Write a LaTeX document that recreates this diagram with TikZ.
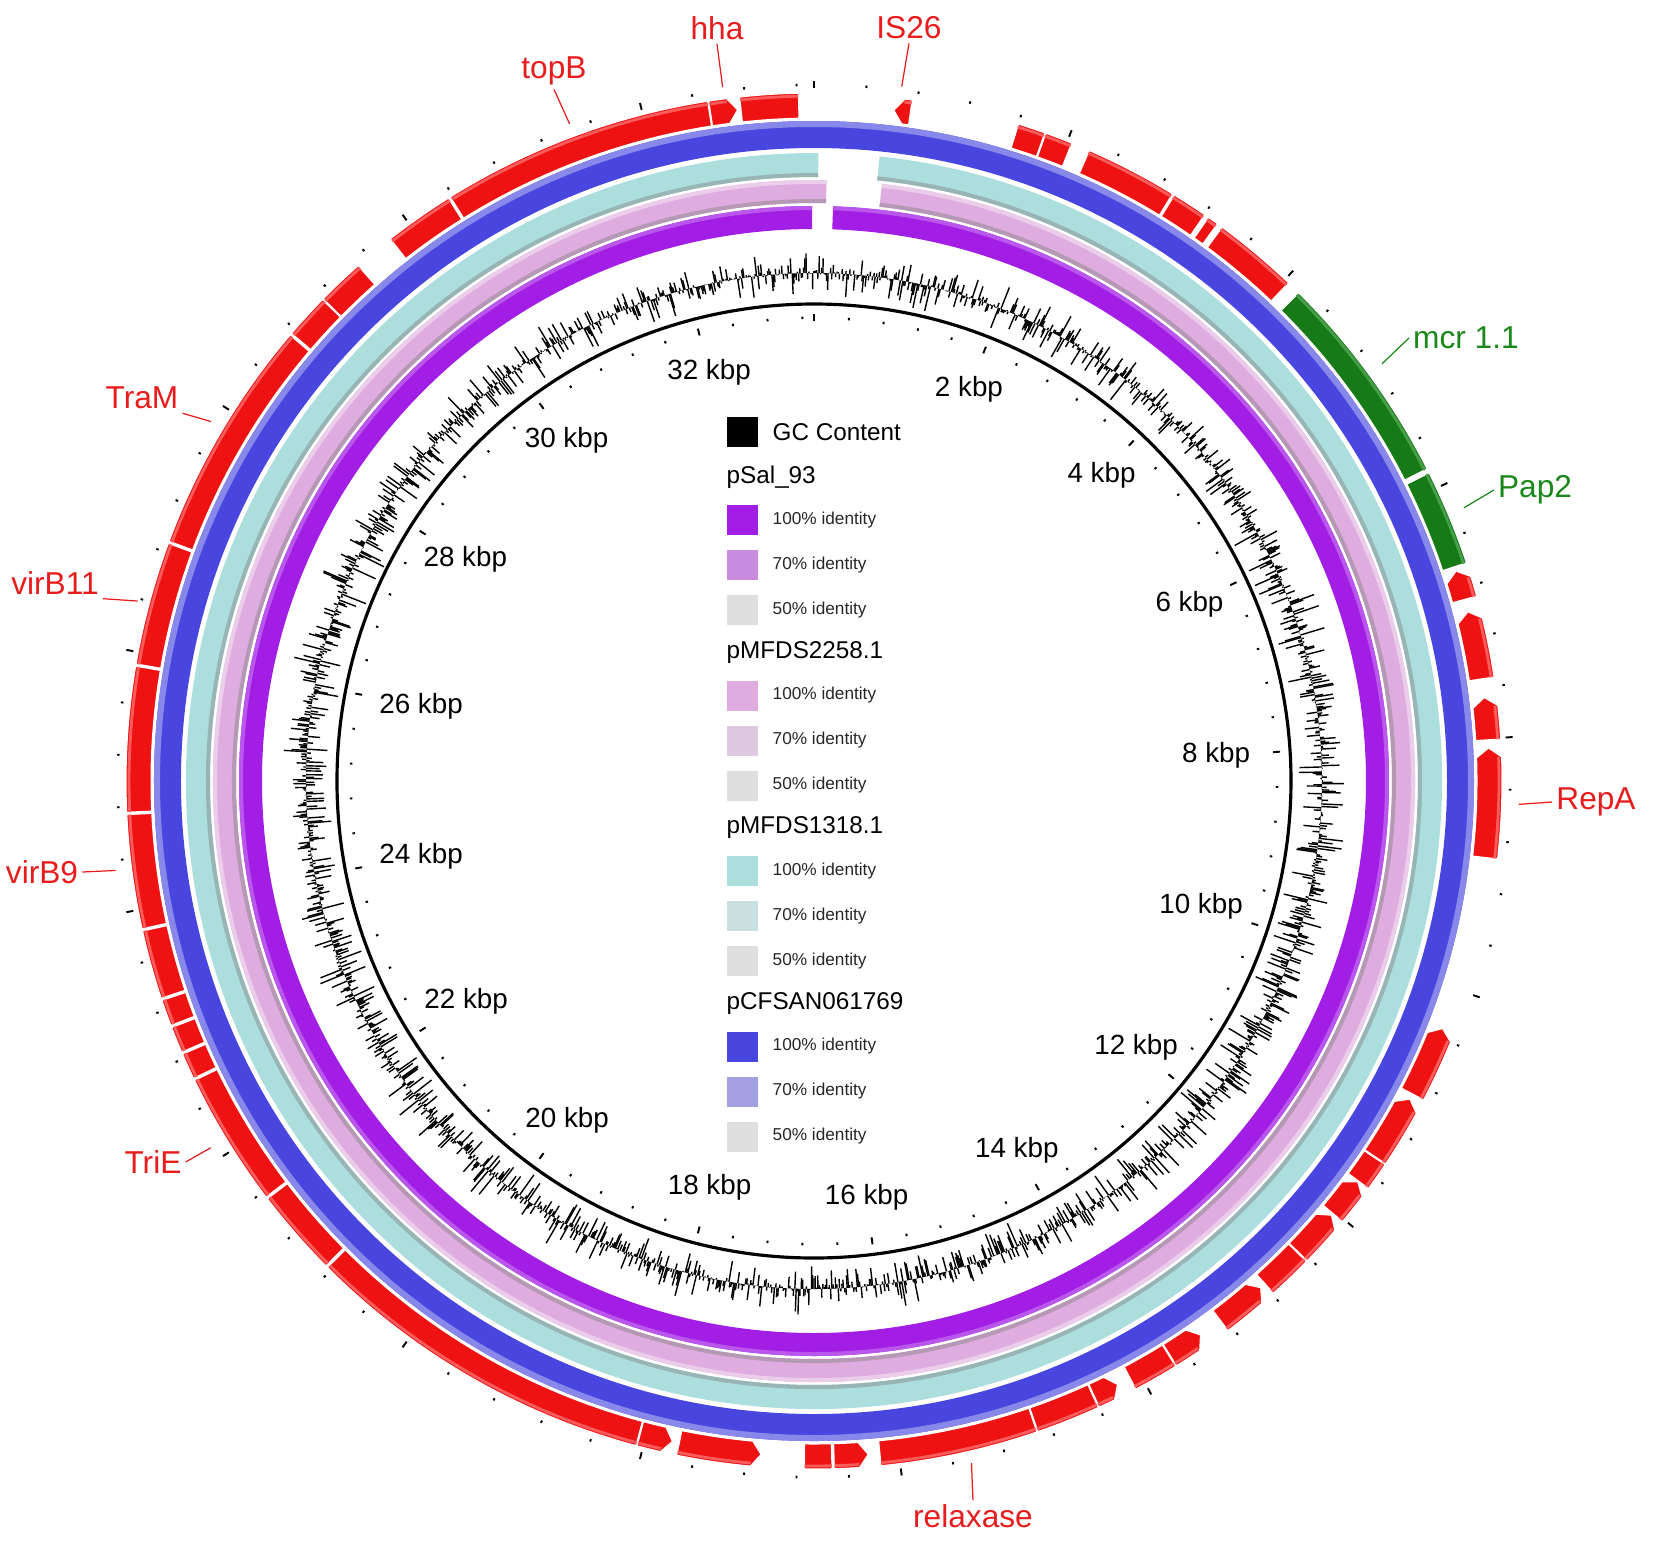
\documentclass[tikz,border=0pt]{standalone}
\usepackage{fontspec}
\setmainfont{Liberation Sans}
\usepackage{tikz}
\usetikzlibrary{calc}

\definecolor{gred}{RGB}{238,18,18}
\definecolor{gredl}{RGB}{250,92,92}
\definecolor{ggreen}{RGB}{22,122,22}
\definecolor{ggreenl}{RGB}{72,158,72}
\definecolor{tred}{RGB}{232,28,28}
\definecolor{tgreen}{RGB}{25,135,25}
\definecolor{salA}{RGB}{162,30,228}
\definecolor{salB}{RGB}{200,140,222}
\definecolor{mfA}{RGB}{222,172,222}
\definecolor{mfB}{RGB}{222,202,224}
\definecolor{mdA}{RGB}{172,222,222}
\definecolor{mdB}{RGB}{202,224,224}
\definecolor{cfA}{RGB}{72,70,222}
\definecolor{cfB}{RGB}{162,160,224}
\definecolor{idgray}{RGB}{222,222,222}

% ring sector: inner r, outer r, from, to (degrees clockwise from top), colour
\newcommand{\ringband}[5]{\fill[#5] ({90-(#3)}:#2) arc[start angle={90-(#3)}, end angle={90-(#4)}, radius=#2] -- ({90-(#4)}:#1) arc[start angle={90-(#4)}, end angle={90-(#3)}, radius=#1] -- cycle;}

\begin{document}
\begin{tikzpicture}[x=0.01cm,y=0.01cm,
  tick/.style={line width=0.55pt},
  gcline/.style={line width=0.4pt},
  kbp/.style={font=\fontsize{7.9}{9}\selectfont, inner sep=0pt},
  glab/.style={text=tred, font=\fontsize{9}{10}\selectfont, inner sep=1pt},
  lead/.style={tred, line width=0.35pt},
  legbox/.style={minimum size=0.3cm, inner sep=0pt},
  leghead/.style={anchor=west, font=\fontsize{6.9}{8}\selectfont, inner sep=0pt},
  legid/.style={anchor=west, font=\fontsize{4.9}{6}\selectfont, inner sep=0pt, text=black!85}]
\useasboundingbox (-814,-766) rectangle (840,781);

\ringband{552}{575}{1.9}{359.8}{salA}
\ringband{571}{575}{1.9}{359.8}{salA!75!white}
\ringband{578}{601}{6.5}{361.2}{mfA}
\ringband{578}{582}{6.5}{361.2}{mfA!55!gray}
\ringband{597}{601}{6.5}{361.2}{mfA!60!white}
\ringband{604}{628}{6.0}{360.4}{mdA}
\ringband{604}{608}{6.0}{360.4}{mdA!55!gray}
\ringband{633}{660}{0}{360}{cfA}
\ringband{654}{660}{0}{360}{cfA!65!white}

\foreach \ga/\gb/\gt in {-6.5/-8.8/1, -6.2/-1.3/0, -31.9/-8.9/0, -38.0/-32.1/0,
  -45.5/-41.5/0, -49.4/-45.6/0, -69.6/-49.6/0, -80.2/-69.8/0, -92.6/-80.4/0,
  -102.4/-92.8/0, -108.4/-102.6/0, -110.8/-108.6/0, -113.2/-111.0/0,
  -115.6/-113.4/0, -127.2/-115.8/0, -134.8/-127.4/0, -165.0/-135.0/0,
  192.1/194.9/1, 184.5/191.5/1, 178.5/180.8/0, 175.4/178.3/1, 161.1/174.4/0,
  155.6/161.0/0, 153.3/155.5/1, 148.3/152.1/0, 145.1/148.2/1, 138.6/143.0/1,
  134.3/138.1/0, 130.0/134.2/1, 126.4/129.8/1, 123.9/126.3/0, 118.1/123.8/1,
  111.5/117.6/1, 87.2/96.5/1, 82.9/86.5/1, 75.5/81.3/1, 71.9/74.4/1,
  6.8/8.2/1, 17.3/19.6/0, 19.7/22.0/0, 23.6/31.4/0, 31.6/34.6/0, 35.0/35.9/0,
  36.4/43.6/0}{
  \pgfmathsetmacro{\gd}{0.8*\gt*sign(\gb-\ga)}
  \pgfmathsetmacro{\sa}{90-(\ga)-(\gd)}
  \pgfmathsetmacro{\ea}{90-(\gb)}
  \pgfmathsetmacro{\ta}{90-(\ga)}
  \fill[gred, draw=white, line width=0.3pt] (\sa:688) arc[start angle=\sa, end angle=\ea, radius=688]
    -- (\ea:663) arc[start angle=\ea, end angle=\sa, radius=663] -- (\ta:675.5) -- cycle;
  \draw[gredl, line width=0.8pt] (\sa:685) arc[start angle=\sa, end angle=\ea, radius=685];
}
\foreach \ga/\gb in {44.8/63.0, 63.4/71.5}{
  \pgfmathsetmacro{\sa}{90-(\ga)}
  \pgfmathsetmacro{\ea}{90-(\gb)}
  \fill[ggreen, draw=white, line width=0.3pt] (\sa:688) arc[start angle=\sa, end angle=\ea, radius=688]
    -- (\ea:663) arc[start angle=\ea, end angle=\sa, radius=663] -- cycle;
  \draw[ggreenl, line width=0.8pt] (\sa:685) arc[start angle=\sa, end angle=\ea, radius=685];
}

\foreach \j in {0,...,83}{
  \pgfmathsetmacro{\ang}{90-\j*4.32}
  \pgfmathtruncatemacro{\big}{mod(\j,5)==0}
  \ifnum\big=1
    \draw[tick] (\ang:460) -- (\ang:467);
    \draw[tick] (\ang:693) -- (\ang:700);
  \else
    \draw[tick] (\ang:462) -- (\ang:464.5);
    \draw[tick] (\ang:695) -- (\ang:697.5);
  \fi
}

\pgfmathsetseed{42}
\foreach \i in {0,...,2499}{
  \pgfmathsetmacro{\ang}{90-\i*0.144}
  \pgfmathsetmacro{\rr}{508+28*rand*rnd}
  \draw[gcline] (\ang:508) -- (\ang:\rr);
}

\draw[line width=0.9pt] (0,0) circle[radius=477];

\foreach \k/\r in {2/421, 4/420, 6/415, 8/403, 10/407, 12/418, 14/421, 16/420,
  18/420, 20/420, 22/412, 24/400, 26/400, 28/413, 30/421, 32/422}
  \node[kbp] (k\k) at ({90-\k*10.8}:\r) {\k\ kbp};

\node[glab] (lhha) at (-97,753) {hha};
\node[glab] (lis) at (95,753) {IS26};
\node[glab] (ltopb) at (-260,710) {topB};
\node[glab] (ltram) at (-672,383) {TraM};
\node[glab] (lvirbe) at (-759,198) {virB11};
\node[glab] (lvirbn) at (-772,-91) {virB9};
\node[glab] (ltrie) at (-661,-381) {TriE};
\node[glab] (lrelax) at (159,-735) {relaxase};
\node[glab] (lrepa) at (782,-21) {RepA};
\node[glab, text=tgreen] (lmcr) at (652,443) {mcr 1.1};
\node[glab, text=tgreen] (lpap) at (721,291) {Pap2};

\coordinate (phha) at ({90+7.5}:700);
\coordinate (pis) at ({90-7.2}:700);
\coordinate (ptopb) at ({90+20.4}:701);
\coordinate (ptram) at ({90+59.2}:702);
\coordinate (pvirbe) at ({90+75.1}:700);
\coordinate (pvirbn) at ({90+97.3}:704);
\coordinate (ptrie) at ({90+121.3}:706);
\coordinate (prelax) at ({90-167}:700);
\coordinate (prepa) at ({90-91.9}:705);
\coordinate (pmcr) at ({90-53.7}:705);
\coordinate (ppap) at ({90-67.2}:705);

\draw[lead] (lhha.south) -- (phha);
\draw[lead] (lis.south) -- (pis);
\draw[lead] (ltopb.south) -- (ptopb);
\draw[lead] (ltram.south east) -- (ptram);
\draw[lead] (lvirbe.south east) -- (pvirbe);
\draw[lead] (lvirbn.east) -- (pvirbn);
\draw[lead] (ltrie.east) -- (ptrie);
\draw[lead] (lrelax.north) -- (prelax);
\draw[lead] (lrepa.west) -- (prepa);
\draw[lead, tgreen] (lmcr.west) -- (pmcr);
\draw[lead, tgreen] (lpap.west) -- (ppap);

\node[legbox, fill=black] (gcbox) at (-71.5,349) {};
\node[leghead] (gctext) at (-42,349) {GC Content};
\foreach \hd/\ca/\cb [count=\g from 0] in {pSal\_93/salA/salB, pMFDS2258.1/mfA/mfB,
  pMFDS1318.1/mdA/mdB, pCFSAN061769/cfA/cfB}{
  \pgfmathsetmacro{\yy}{304-175.5*\g}
  \node[leghead] (head\g) at (-88,\yy) {\hd};
  \node[legbox, fill=\ca] (boxa\g) at (-71.5,\yy-43) {};
  \node[legid] (ida\g) at (-42,\yy-43) {100\% identity};
  \node[legbox, fill=\cb] (boxb\g) at (-71.5,\yy-88) {};
  \node[legid] (idb\g) at (-42,\yy-88) {70\% identity};
  \node[legbox, fill=idgray] (boxc\g) at (-71.5,\yy-133) {};
  \node[legid] (idc\g) at (-42,\yy-133) {50\% identity};
}
\end{tikzpicture}
\end{document}
